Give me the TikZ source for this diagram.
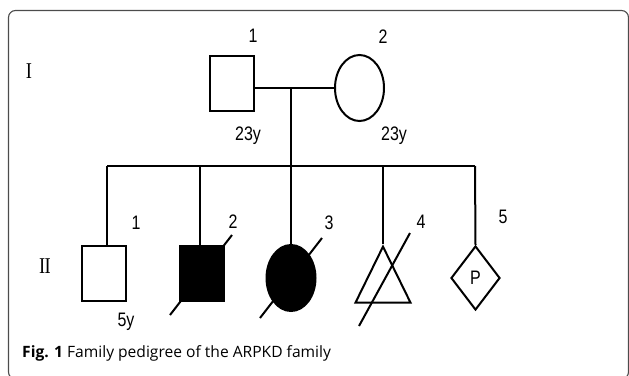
\documentclass[tikz,border=0pt]{standalone}
\usepackage{fontspec}
\setmainfont{Liberation Serif}
\setsansfont{Liberation Sans}
\newfontfamily\captionfont{Open Sans}
\usetikzlibrary{shapes.geometric}
\newcommand{\tall}[1]{\scalebox{1}[1.22]{#1}}
\tikzset{
    ped-line/.style = {line width=2pt, black},
    male-box/.style = {ped-line, draw, rectangle, minimum width=44pt, minimum height=55pt, inner sep=0pt},
    female-oval/.style = {ped-line, draw, ellipse, minimum width=49pt, minimum height=66pt, inner sep=0pt},
    loss-triangle/.style = {ped-line, draw, isosceles triangle, isosceles triangle stretches, shape border rotate=90, minimum width=55pt, minimum height=56pt, inner sep=0pt},
    preg-diamond/.style = {ped-line, draw, diamond, minimum width=49pt, minimum height=64pt, inner sep=0pt, font=\sffamily\fontsize{16}{18}\selectfont},
    affected/.style = {fill=black},
    id-label/.style = {anchor=base, inner sep=0pt, font=\sffamily\fontsize{16}{18}\selectfont},
    gen-label/.style = {anchor=base, inner sep=0pt, font=\rmfamily\fontsize{18.5}{20}\selectfont},
}

\begin{document}
\begin{tikzpicture}[x=1pt, y=-1pt]
\useasboundingbox (0,0) rectangle (629,375);
\draw[line width=1.1pt, black!70, rounded corners=7pt] (8.5,10.5) rectangle (628.5,379);

\node[gen-label] (gen1) at (29,78) {\tall{I}};
\node[gen-label] (gen2) at (45,273) {\tall{I\kern-0.7pt I}};

\node[male-box] (f1) at (232,83.5) {};
\node[female-oval] (m2) at (359.5,88) {};
\coordinate (mid) at (291,88);
\coordinate (sib) at (291,166);
\draw[ped-line] (f1.east |- mid) -- (m2.west);
\draw[ped-line] (mid) -- (sib);

\node[male-box] (c1) at (103.5,273.5) {};
\node[male-box, affected] (c2) at (202,273.5) {};
\node[female-oval, affected] (c3) at (291,278) {};
\node[loss-triangle, anchor=apex] (c4) at (383,244) {};
\node[preg-diamond] (c5) at (475.5,278) {\tall{P}};

\coordinate (b1) at (107,166);
\coordinate (b2) at (200,166);
\coordinate (b3) at (291,166);
\coordinate (b4) at (383,166);
\coordinate (b5) at (475,166);
\draw[ped-line] (b1) -- (b5);
\draw[ped-line] (b1) -- (b1 |- c1.north);
\draw[ped-line] (b2) -- (b2 |- c2.north);
\draw[ped-line] (b3) -- (c3.north);
\draw[ped-line] (b4) -- (c4.apex);
\draw[ped-line] (b5) -- (c5.north);

\draw[ped-line] (c2.center) ++(-32,41.5) -- ++(62,-80);
\draw[ped-line] (c3.center) ++(-31,40) -- ++(62,-80);
\draw[ped-line] (c4.apex) ++(-24,82) -- ++(51,-93);

\node[id-label] (n11) at (253,42) {\tall{1}};
\node[id-label] (n12) at (383,43) {\tall{2}};
\node[id-label] (a11) at (248,140) {\tall{23y}};
\node[id-label] (a12) at (394,140) {\tall{23y}};
\node[id-label] (n21) at (136,229) {\tall{1}};
\node[id-label] (n22) at (233,228) {\tall{2}};
\node[id-label] (n23) at (329,229) {\tall{3}};
\node[id-label] (n24) at (421,228) {\tall{4}};
\node[id-label] (n25) at (503,223) {\tall{5}};
\node[id-label] (a21) at (126,326) {\tall{5y}};

\node[anchor=base west, inner sep=0pt, font=\captionfont\fontsize{15.6}{18}\selectfont] (caption) at (22,357) {\textbf{Fig. 1} Family pedigree of the ARPKD family};
\end{tikzpicture}
\end{document}
